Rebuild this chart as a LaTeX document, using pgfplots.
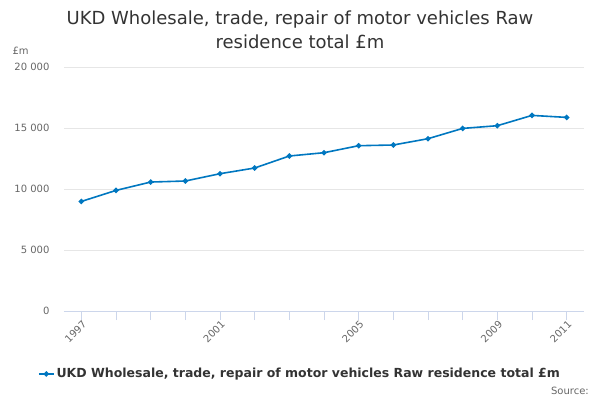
\documentclass[border=0pt]{standalone}
\usepackage{pgfplots}
\pgfplotsset{compat=1.18}
\usepackage{fontspec}
\setmainfont{DejaVu Sans}
\definecolor{linecol}{HTML}{0077C0}
\definecolor{gridcol}{HTML}{E6E6E6}
\definecolor{axcol}{HTML}{CCD6EB}
\definecolor{labcol}{HTML}{666666}
\definecolor{titcol}{HTML}{333333}
\begin{document}
\begin{tikzpicture}[x=1pt,y=1pt]
\useasboundingbox (0,0) rectangle (600,400);
\begin{axis}[
  at={(64pt,89pt)}, anchor=south west,
  scale only axis, width=520pt, height=244pt,
  xmin=1996.5, xmax=2011.5, ymin=0, ymax=20000,
  axis x line=bottom, axis y line=left,
  axis line style={-},
  x axis line style={draw=axcol, line width=0.8pt},
  y axis line style={draw=none},
  xtick={1997,2001,2005,2009,2011},
  xticklabels={1997,2001,2005,2009,2011},
  minor xtick={1998,1999,2000,2002,2003,2004,2006,2007,2008,2010},
  ytick={0,5000,10000,15000,20000},
  ymajorgrids, grid style={gridcol, line width=0.8pt},
  tick align=outside,
  major tick length=9pt, minor tick length=9pt,
  xtick style={draw=axcol, line width=0.8pt},
  minor x tick style={draw=axcol, line width=0.8pt},
  ytick style={draw=none},
  scaled y ticks=false,
  /pgf/number format/.cd, assume math mode=true, 1000 sep={\ },
  /pgfplots/.cd,
  yticklabel style={font=\fontsize{10}{12}\selectfont, text=labcol, xshift=-2pt},
  xticklabel style={font=\fontsize{10}{12}\selectfont, text=labcol, rotate=45, anchor=east, xshift=4pt, yshift=-4pt},
  legend style={at={(0.4538,-0.258)}, anchor=center, draw=none, fill=none,
    font=\bfseries\fontsize{12.5}{15}\selectfont, text=titcol},
  legend image code/.code={\draw[#1, line width=1.5pt] (0pt,0pt) -- (15pt,0pt); \fill[linecol] (7.5pt,0pt) circle (1.8pt);},
]
\addplot[color=linecol, line width=1.6pt, mark=*, mark size=1.8pt, mark options={fill=linecol, draw=linecol}]
coordinates {
(1997,8980) (1998,9885) (1999,10570) (2000,10655) (2001,11254)
(2002,11721) (2003,12705) (2004,12975) (2005,13549) (2006,13607)
(2007,14123) (2008,14967) (2009,15189) (2010,16033) (2011,15869)
};
\addlegendentry{UKD Wholesale, trade, repair of motor vehicles Raw residence total £m}
\end{axis}
\node[text=titcol, font=\fontsize{18}{21}\selectfont] at (300,380) {UKD Wholesale, trade, repair of motor vehicles Raw};
\node[text=titcol, font=\fontsize{18}{21}\selectfont] at (300,358) {residence total £m};
\node[text=labcol, font=\fontsize{10}{12}\selectfont, anchor=west] at (9,349) {£m};
\node[text=labcol, font=\fontsize{10}{12}\selectfont, anchor=east, inner sep=0pt] at (589,9) {Source:};
\end{tikzpicture}
\end{document}
